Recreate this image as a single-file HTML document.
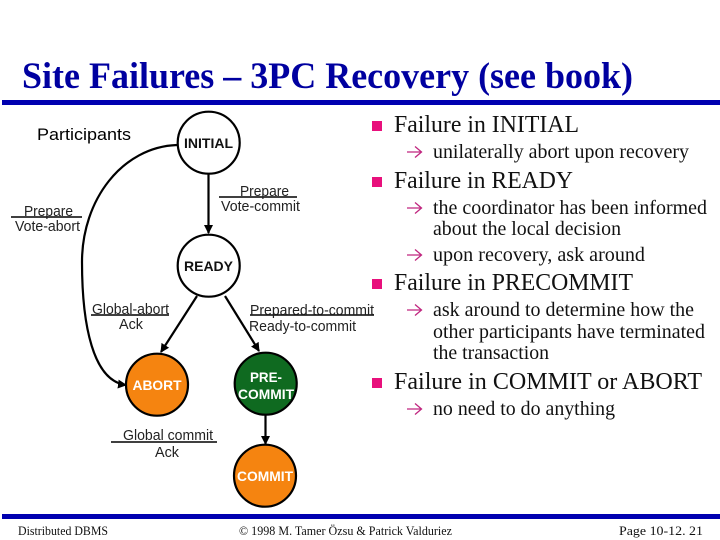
<!DOCTYPE html>
<html><head><meta charset="utf-8"><style>
html,body{margin:0;padding:0;background:#fff}
svg{display:block}
.s{font-family:"Liberation Serif",serif}
.a{font-family:"Liberation Sans",sans-serif}
.l{font-size:14.500px;fill:#222}
.st{font-size:14px;font-weight:bold;text-anchor:middle}
.h{font-size:24.500px;fill:#111}
.b{font-size:19.500px;fill:#111}
.f{font-size:12.500px;fill:#111}
.ar{fill:none;stroke:#c0267f;stroke-width:1.3}
</style></head><body>
<svg width="720" height="540" viewBox="0 0 720 540" xmlns="http://www.w3.org/2000/svg">
<defs><marker id="m" markerWidth="10" markerHeight="10" refX="8" refY="4.500" orient="auto" markerUnits="userSpaceOnUse"><path d="M0,0L9,4.500L0,9z" fill="#000"/></marker></defs>
<rect width="720" height="540" fill="#fff"/>
<text class="s" x="22" y="88" font-size="36.500" font-weight="bold" fill="#0000a0" textLength="611" lengthAdjust="spacingAndGlyphs">Site Failures – 3PC Recovery (see book)</text>
<rect x="2" y="100" width="718" height="5" fill="#0000b0"/>
<rect x="2" y="514" width="718" height="5" fill="#0000b0"/>

<g fill="none" stroke="#000" stroke-width="2.200">
<path d="M177,145 C122,147 82,200 82,262 C82,325 93,381 126,385" marker-end="url(#m)"/>
<path d="M208.500,174 V233" marker-end="url(#m)"/>
<path d="M197,296 L161,352" marker-end="url(#m)"/>
<path d="M225,296 L259,351" marker-end="url(#m)"/>
<path d="M265.500,415 V444" marker-end="url(#m)"/>
</g>
<g stroke="#000" stroke-width="2.200">
<circle cx="208.700" cy="142.700" r="31" fill="#fff"/>
<circle cx="208.700" cy="265.700" r="31" fill="#fff"/>
<circle cx="157" cy="384.700" r="31" fill="#f58410"/>
<circle cx="265.700" cy="383.700" r="31" fill="#0f6a20"/>
<circle cx="265" cy="475.700" r="31" fill="#f58410"/>
</g>
<text class="a st" x="208.500" y="148" fill="#111" textLength="49" lengthAdjust="spacingAndGlyphs">INITIAL</text>
<text class="a st" x="208.500" y="271" fill="#111" textLength="49" lengthAdjust="spacingAndGlyphs">READY</text>
<text class="a st" x="157" y="390" fill="#fff" textLength="49" lengthAdjust="spacingAndGlyphs">ABORT</text>
<text class="a st" x="266" y="382" fill="#fff" textLength="32" lengthAdjust="spacingAndGlyphs">PRE-</text>
<text class="a st" x="266" y="399" fill="#fff" textLength="56" lengthAdjust="spacingAndGlyphs">COMMIT</text>
<text class="a st" x="265" y="481" fill="#fff" textLength="56" lengthAdjust="spacingAndGlyphs">COMMIT</text>

<text class="a" x="37" y="140" font-size="17" fill="#000" textLength="94" lengthAdjust="spacingAndGlyphs">Participants</text>

<g stroke="#000" stroke-width="1.500">
<path d="M219,197H297M11,217H82M91,315H169M250,315H374M111,442H217"/>
</g>
<text class="a l" x="240" y="196" textLength="49" lengthAdjust="spacingAndGlyphs">Prepare</text>
<text class="a l" x="221" y="211" textLength="79" lengthAdjust="spacingAndGlyphs">Vote-commit</text>
<text class="a l" x="24" y="216" textLength="49" lengthAdjust="spacingAndGlyphs">Prepare</text>
<text class="a l" x="15" y="231" textLength="65" lengthAdjust="spacingAndGlyphs">Vote-abort</text>
<text class="a l" x="92" y="314" textLength="77" lengthAdjust="spacingAndGlyphs">Global-abort</text>
<text class="a l" x="119" y="329" textLength="24" lengthAdjust="spacingAndGlyphs">Ack</text>
<text class="a l" x="250" y="315" textLength="124" lengthAdjust="spacingAndGlyphs">Prepared-to-commit</text>
<text class="a l" x="249" y="331" textLength="107" lengthAdjust="spacingAndGlyphs">Ready-to-commit</text>
<text class="a l" x="123" y="440" textLength="90" lengthAdjust="spacingAndGlyphs">Global commit</text>
<text class="a l" x="155" y="457" textLength="24" lengthAdjust="spacingAndGlyphs">Ack</text>

<g fill="#e8107c">
<rect x="372" y="121" width="10" height="10"/>
<rect x="372" y="177" width="10" height="10"/>
<rect x="372" y="279" width="10" height="10"/>
<rect x="372" y="378" width="10" height="10"/>
</g>
<text class="s h" x="394" y="132" textLength="185" lengthAdjust="spacingAndGlyphs">Failure in INITIAL</text>
<text class="s h" x="394" y="188" textLength="179" lengthAdjust="spacingAndGlyphs">Failure in READY</text>
<text class="s h" x="394" y="290" textLength="239" lengthAdjust="spacingAndGlyphs">Failure in PRECOMMIT</text>
<text class="s h" x="394" y="389" textLength="308" lengthAdjust="spacingAndGlyphs">Failure in COMMIT or ABORT</text>

<g class="ar">
<path class="ar" d="M407,152H421M415,146.500L421.500,152L415,157.500"/>
<path class="ar" d="M407,208H421M415,202.500L421.500,208L415,213.500"/>
<path class="ar" d="M407,255H421M415,249.500L421.500,255L415,260.500"/>
<path class="ar" d="M407,310H421M415,304.500L421.500,310L415,315.500"/>
<path class="ar" d="M407,409H421M415,403.500L421.500,409L415,414.500"/>
</g>
<text class="s b" x="433" y="158" textLength="256" lengthAdjust="spacingAndGlyphs">unilaterally abort upon recovery</text>
<text class="s b" x="433" y="214" textLength="274" lengthAdjust="spacingAndGlyphs">the coordinator has been informed</text>
<text class="s b" x="433" y="235" textLength="188" lengthAdjust="spacingAndGlyphs">about the local decision</text>
<text class="s b" x="433" y="261" textLength="212" lengthAdjust="spacingAndGlyphs">upon recovery, ask around</text>
<text class="s b" x="433" y="316" textLength="261" lengthAdjust="spacingAndGlyphs">ask around to determine how the</text>
<text class="s b" x="433" y="338" textLength="272" lengthAdjust="spacingAndGlyphs">other participants have terminated</text>
<text class="s b" x="433" y="359" textLength="116" lengthAdjust="spacingAndGlyphs">the transaction</text>
<text class="s b" x="433" y="415" textLength="182" lengthAdjust="spacingAndGlyphs">no need to do anything</text>

<text class="s f" x="18" y="535" textLength="90" lengthAdjust="spacingAndGlyphs">Distributed DBMS</text>
<text class="s f" x="239" y="535" textLength="213" lengthAdjust="spacingAndGlyphs">© 1998 M. Tamer Özsu &amp; Patrick Valduriez</text>
<text class="s f" x="619" y="535" textLength="84" lengthAdjust="spacingAndGlyphs">Page 10-12. 21</text>
</svg>
</body></html>
